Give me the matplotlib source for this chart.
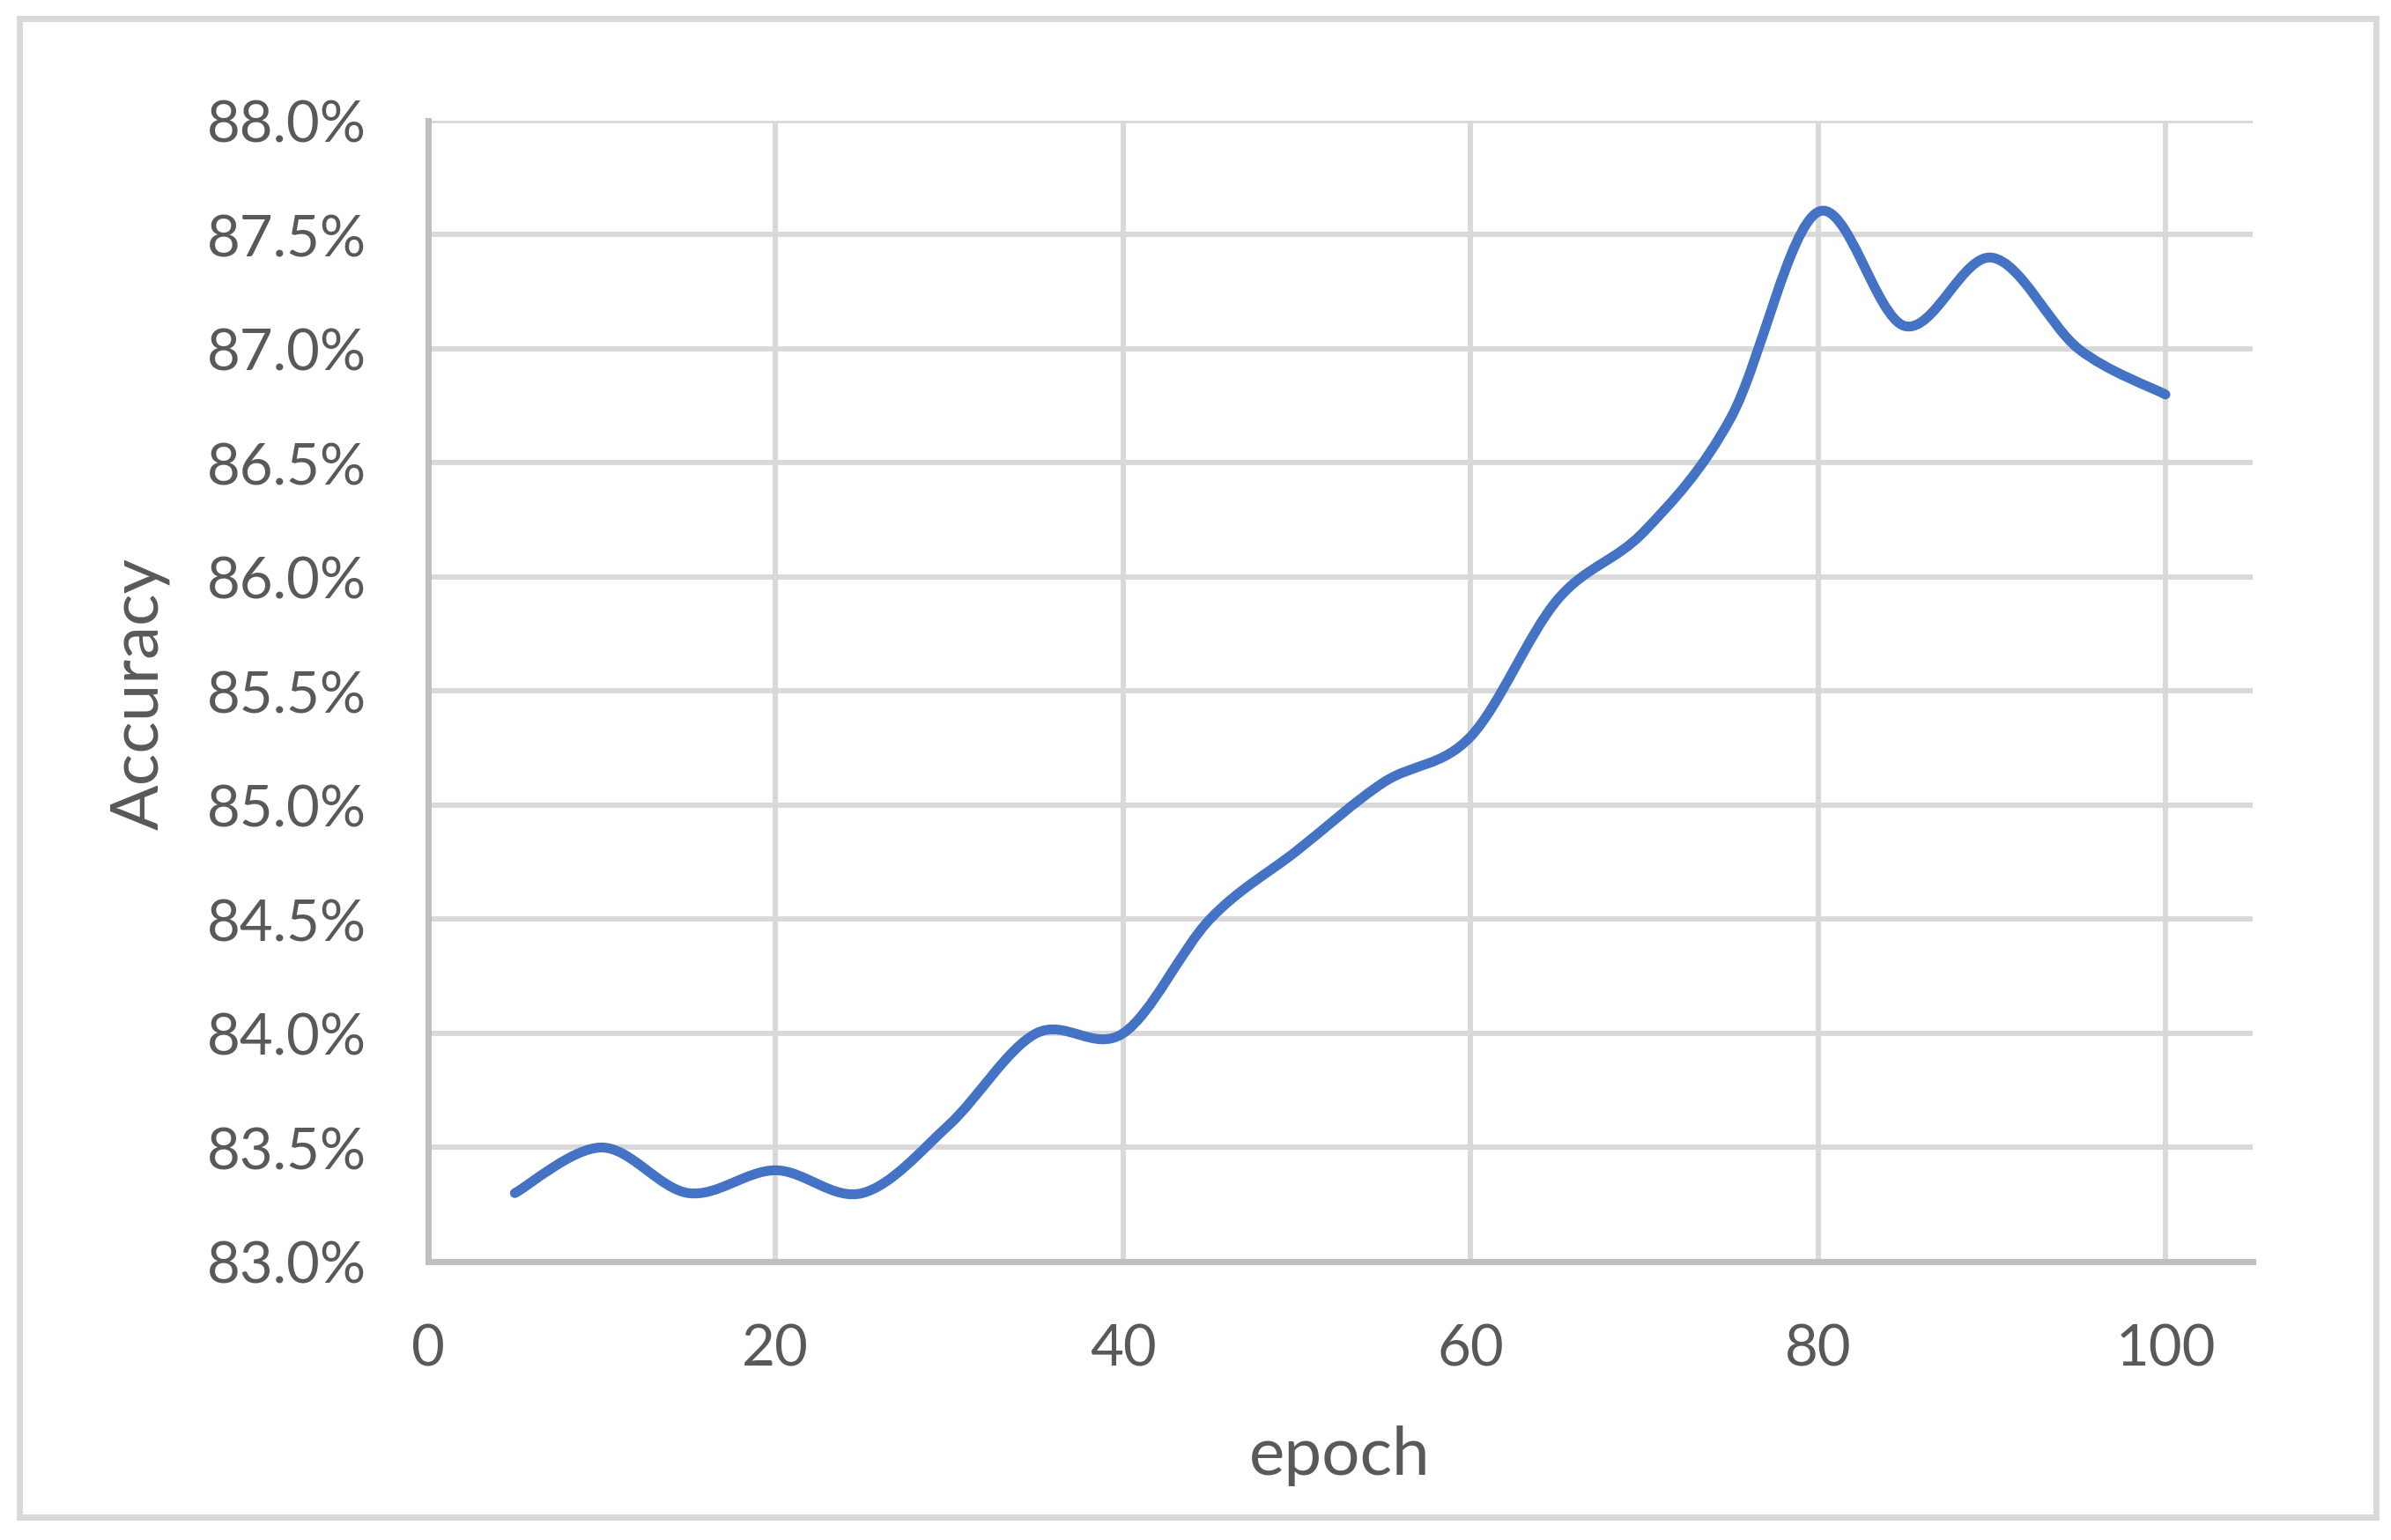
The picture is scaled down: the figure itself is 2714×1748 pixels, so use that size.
import matplotlib
matplotlib.use("Agg")
import matplotlib.pyplot as plt
from matplotlib.path import Path
from matplotlib.patches import PathPatch, Rectangle

# data
epochs = [5, 10, 15, 20, 25, 30, 35, 40, 45, 50,
          55, 60, 65, 70, 75, 80, 85, 90, 95, 100]
accuracy = [83.3, 83.5, 83.3, 83.4, 83.3, 83.6, 84.0, 84.0, 84.5, 84.8,
            85.1, 85.3, 85.9, 86.2, 86.7, 87.6, 87.1, 87.4, 87.0, 86.8]
x_ticks = [0, 20, 40, 60, 80, 100]
y_ticks = [83.0, 83.5, 84.0, 84.5, 85.0, 85.5, 86.0, 86.5, 87.0, 87.5, 88.0]

TEXT = "#595959"
GRID = "#D9D9D9"
AXIS = "#BFBFBF"
LINE = "#4472C4"

plt.rcParams["font.family"] = ["Lato", "DejaVu Sans"]


def smooth_path(xs, ys):
    # Excel-style smoothed line: cubic bezier through the points
    pts = list(zip(xs, ys))
    n = len(pts)
    verts = [pts[0]]
    codes = [Path.MOVETO]
    for i in range(n - 1):
        p0 = pts[i - 1] if i > 0 else pts[i]
        p1 = pts[i]
        p2 = pts[i + 1]
        p3 = pts[i + 2] if i + 2 < n else pts[i + 1]
        c1 = (p1[0] + (p2[0] - p0[0]) / 6, p1[1] + (p2[1] - p0[1]) / 6)
        c2 = (p2[0] - (p3[0] - p1[0]) / 6, p2[1] - (p3[1] - p1[1]) / 6)
        verts += [c1, c2, p2]
        codes += [Path.CURVE4] * 3
    return Path(verts, codes)


fig = plt.figure(figsize=(27.14, 17.49), dpi=100)
ax = fig.add_axes([0.179, 0.1807, 0.763, 0.7404])

# outer chart border
fig.patches.append(Rectangle((0.0081, 0.0149), 0.9856, 0.9725, transform=fig.transFigure,
                             fill=False, edgecolor=GRID, linewidth=5, zorder=0))

ax.set_xlim(0, 105)
ax.set_ylim(83.0, 88.0)
ax.set_xticks(x_ticks)
ax.set_yticks(y_ticks)
ax.set_yticklabels([f"{v:.1f}%" for v in y_ticks])

ax.grid(True, color=GRID, linewidth=4.3)
ax.set_axisbelow(True)
for side in ["top", "right"]:
    ax.spines[side].set_visible(False)
for side in ["left", "bottom"]:
    ax.spines[side].set_color(AXIS)
    ax.spines[side].set_linewidth(5)

ax.tick_params(axis="both", length=0, labelsize=47, labelcolor=TEXT)
ax.tick_params(axis="y", pad=50)
ax.tick_params(axis="x", pad=50)

line = PathPatch(smooth_path(epochs, accuracy), fill=False, edgecolor=LINE,
                 linewidth=8, capstyle="round", joinstyle="round", zorder=3)
ax.add_patch(line)

fig.text(158 / 2714, 1 - 788 / 1749, "Accuracy", rotation=90, ha="center", va="center",
         fontsize=55, color=TEXT)
fig.text(1521 / 2714, 1 - 1653 / 1749, "epoch", ha="center", va="center",
         fontsize=55, color=TEXT)

fig.savefig("out.png", dpi=100, facecolor="white")
